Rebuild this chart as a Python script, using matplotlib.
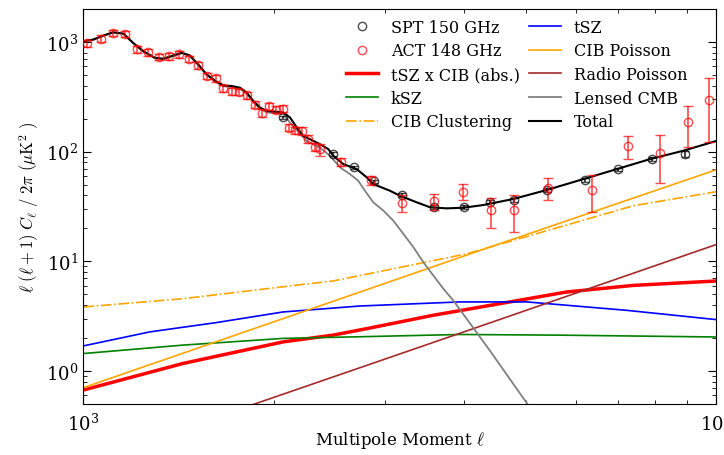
"""Angular power spectrum: SPT / ACT bandpowers with model components."""
import matplotlib
matplotlib.use('Agg')
from matplotlib import pyplot as plt
from matplotlib.lines import Line2D
from matplotlib.ticker import NullFormatter

# --- bandpowers -------------------------------------------------------------
act_l = [1015, 1065, 1115, 1165, 1214, 1265, 1318, 1366, 1417, 1468,
         1516, 1567, 1619, 1665, 1716, 1762, 1817, 1866, 1916, 1966,
         2013, 2067, 2116, 2161, 2216, 2268, 2324, 2367, 2552, 2849,
         3185, 3579, 3987, 4402, 4786, 5432, 6357, 7247, 8155, 9042, 9748]
act_val = [975, 1076, 1212, 1177, 855, 808, 734, 738, 770, 704,
           612, 491, 469, 378, 355, 351, 326, 269, 225, 261,
           242, 247, 166, 157, 155, 131, 111, 105, 81, 55,
           33.9, 35.3, 43.3, 29.1, 29.4, 46.6, 44.7, 113, 96.3, 187, 296]
act_err = [70, 75, 80, 75, 60, 55, 50, 50, 50, 45,
           40, 35, 33, 27, 25, 25, 23, 20, 18, 19,
           17, 17, 13, 12, 12, 11, 10, 13, 7, 5,
           6, 6, 7, 8.8, 10.9, 10.5, 16.7, 26.5, 45, 76, 173]

spt_l = [2071, 2481, 2681, 2884, 3189, 3584, 3990, 4397, 4789, 5406,
         6208, 7008, 7913, 8923]
spt_val = [205, 94.9, 71.8, 53.6, 40.2, 31.5, 31.5, 35.1, 36.5, 44.4,
           55.4, 68.9, 85.5, 94.5]
spt_err = [8, 3.5, 2.5, 2, 1.6, 1.3, 1.3, 1.4, 1.5, 1.8,
           2.2, 2.8, 3.5, 6]

# --- model components -------------------------------------------------------
tsz_l = [1000, 1274, 1623, 2069, 2737, 3939, 5021, 5667, 7226, 10000]
tsz_val = [1.69, 2.27, 2.76, 3.45, 3.91, 4.26, 4.26, 4.02, 3.57, 2.94]

ksz_l = [1000, 1438, 2069, 2737, 3939, 5667, 10000]
ksz_val = [1.44, 1.72, 1.98, 2.05, 2.15, 2.12, 2.04]

tszcib_l = [1000, 1438, 2069, 2481, 2805, 3574, 4556, 5808, 7403, 10000]
tszcib_val = [0.669, 1.17, 1.84, 2.12, 2.43, 3.22, 4.11, 5.25, 6.03, 6.61]

cibp_l = [1000, 2481, 4394, 10000]
cibp_val = [0.703, 4.31, 13.5, 68.3]

cibc_l = [1000, 1438, 2200, 2481, 4036, 7403, 10000]
cibc_val = [3.83, 4.56, 6.11, 6.61, 11.7, 32.1, 43.1]

radio_l = [1800, 2737, 4134, 10000]
radio_val = [0.465, 1.07, 2.43, 14.2]

cmb_l = [1000, 1037, 1076, 1115, 1157, 1199, 1244, 1298, 1338, 1388,
         1431, 1474, 1520, 1567, 1619, 1665, 1716, 1769, 1813, 1857,
         1903, 1950, 2009, 2071, 2122, 2255, 2366, 2454, 2545, 2639,
         2720, 2787, 2873, 2980, 3090, 3205, 3323, 3446, 3574, 3707,
         3843, 4385, 5003, 5176]
cmb_val = [1008, 1045, 1137, 1219, 1186, 975, 817, 710, 697, 746,
           790, 746, 616, 499, 433, 395, 390, 376, 338, 283,
           245, 228, 225, 220, 184, 125, 109, 91.6, 71.9, 62.4,
           54.3, 44.0, 34.5, 29.0, 23.5, 17.8, 13.5, 9.83, 7.43, 5.62,
           4.40, 1.55, 0.525, 0.40]

total_l = [1000, 1037, 1076, 1115, 1157, 1199, 1244, 1298, 1338, 1388,
           1431, 1474, 1520, 1567, 1619, 1665, 1716, 1769, 1813, 1857,
           1903, 1950, 2009, 2071, 2122, 2175, 2227, 2282, 2366, 2439,
           2484, 2576, 2705, 2805, 2873, 3053, 3167, 3365, 3532, 3753,
           3987, 4287, 4781, 5401, 6170, 6966, 7866, 8878, 10000]
total_val = [1017, 1054, 1146, 1228, 1195, 983, 825, 718, 704, 754,
             798, 754, 624, 506, 440, 402, 397, 383, 345, 290,
             252, 235, 232, 227, 205, 166, 139, 130, 117, 105.6,
             91.6, 77.0, 69.3, 58.3, 50.6, 44.0, 39.6, 34.5, 31.1, 30.4,
             30.8, 32.6, 37.0, 44.7, 56.2, 69.3, 85.5, 102, 125]


def plot():
    plt.rcParams['font.family'] = 'DejaVu Serif'
    plt.rcParams['mathtext.fontset'] = 'cm'

    fig = plt.figure(figsize=(7.24, 4.56), dpi=100)
    ax = fig.add_axes([0.115, 0.112, 0.874, 0.866])

    ax.errorbar(spt_l, spt_val, yerr=spt_err, fmt='o', mfc='none',
                mec='k', ecolor='k', ms=6, capsize=3, alpha=0.7, zorder=5)
    ax.errorbar(act_l, act_val, yerr=act_err, fmt='o', mfc='none',
                mec='r', ecolor='r', ms=6, mew=1, elinewidth=1.2,
                capsize=3.5, capthick=1.2, alpha=0.7, zorder=6)

    ax.plot(tszcib_l, tszcib_val, color='r', lw=2.5)
    ax.plot(ksz_l, ksz_val, color='g', lw=1.2)
    ax.plot(cibc_l, cibc_val, color='orange', lw=1.2, ls='-.')
    ax.plot(tsz_l, tsz_val, color='b', lw=1.2)
    ax.plot(cibp_l, cibp_val, color='orange', lw=1.2)
    ax.plot(radio_l, radio_val, color='brown', lw=1.2)
    ax.plot(cmb_l, cmb_val, color='gray', lw=1.3)
    ax.plot(total_l, total_val, color='k', lw=1.5)

    ax.set_xscale('log')
    ax.set_yscale('log')
    ax.set_xlim(1000, 10000)
    ax.set_ylim(0.5, 2000)
    ax.xaxis.set_minor_formatter(NullFormatter())
    ax.tick_params(which='both', direction='in', top=True, right=True,
                   labelsize=13)
    ax.tick_params(which='major', length=6)
    ax.tick_params(which='minor', length=3)
    ax.tick_params(axis='x', pad=6)

    ax.set_xlabel(r'Multipole Moment $\ell$', fontsize=12, labelpad=-3)
    ax.set_ylabel(r'$\ell\ (\ell+1)\ C_\ell\ /\ 2\pi\ (\mu{\rm K}^2\ )$',
                  fontsize=12)

    handles = [
        Line2D([], [], ls='none', marker='o', mfc='none', mec='k', alpha=0.7),
        Line2D([], [], ls='none', marker='o', mfc='none', mec='r', alpha=0.7),
        Line2D([], [], color='r', lw=2.5),
        Line2D([], [], color='g', lw=1.2),
        Line2D([], [], color='orange', lw=1.2, ls='-.'),
        Line2D([], [], color='b', lw=1.2),
        Line2D([], [], color='orange', lw=1.2),
        Line2D([], [], color='brown', lw=1.2),
        Line2D([], [], color='gray', lw=1.3),
        Line2D([], [], color='k', lw=1.5),
    ]
    labels = ['SPT 150 GHz', 'ACT 148 GHz', 'tSZ x CIB (abs.)', 'kSZ',
              'CIB Clustering', 'tSZ', 'CIB Poisson', 'Radio Poisson',
              'Lensed CMB', 'Total']
    ax.legend(handles, labels, loc='upper right', bbox_to_anchor=(0.97, 1.0),
              ncol=2, frameon=False, fontsize=11.5, labelspacing=0.42,
              columnspacing=0.6, borderaxespad=0.2)

    fig.savefig('out.png', dpi=100)


if __name__ == '__main__':
    plot()
